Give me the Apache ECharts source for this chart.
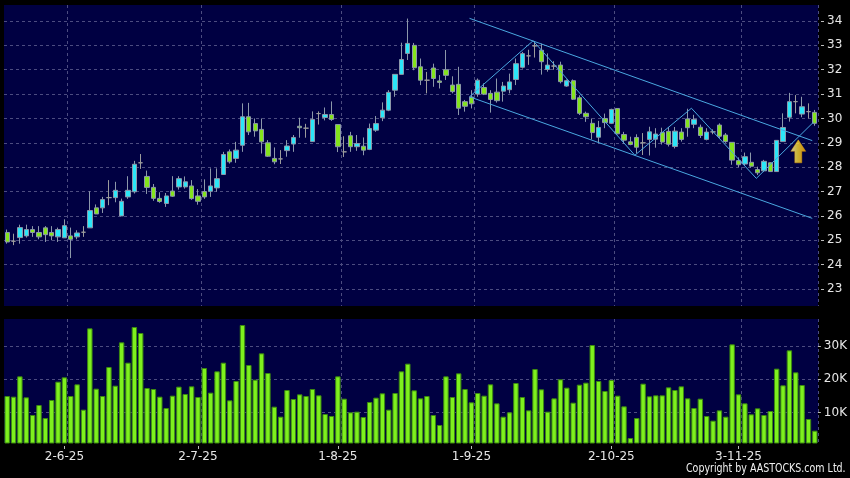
<!DOCTYPE html>
<html><head><meta charset="utf-8">
<script src="https://cdn.jsdelivr.net/npm/echarts@6/dist/echarts.min.js"></script>
<style>html,body{margin:0;padding:0;background:#000;}#c{width:850px;height:478px;}</style>
</head><body><div id="c"></div>
<script>
// ---- data ----
const dates = ('20-5-25 21-5-25 22-5-25 23-5-25 26-5-25 27-5-25 28-5-25 29-5-25 30-5-25 ' +
 '2-6-25 3-6-25 4-6-25 5-6-25 6-6-25 9-6-25 10-6-25 11-6-25 12-6-25 13-6-25 16-6-25 17-6-25 18-6-25 19-6-25 20-6-25 23-6-25 24-6-25 25-6-25 26-6-25 27-6-25 30-6-25 ' +
 '2-7-25 3-7-25 4-7-25 7-7-25 8-7-25 9-7-25 10-7-25 11-7-25 14-7-25 15-7-25 16-7-25 17-7-25 18-7-25 21-7-25 22-7-25 23-7-25 24-7-25 25-7-25 28-7-25 29-7-25 30-7-25 31-7-25 ' +
 '1-8-25 4-8-25 5-8-25 6-8-25 7-8-25 8-8-25 11-8-25 12-8-25 13-8-25 14-8-25 15-8-25 18-8-25 19-8-25 20-8-25 21-8-25 22-8-25 25-8-25 26-8-25 27-8-25 28-8-25 29-8-25 ' +
 '1-9-25 2-9-25 3-9-25 4-9-25 5-9-25 8-9-25 9-9-25 10-9-25 11-9-25 12-9-25 15-9-25 16-9-25 17-9-25 18-9-25 19-9-25 22-9-25 23-9-25 24-9-25 25-9-25 26-9-25 29-9-25 30-9-25 ' +
 '2-10-25 3-10-25 6-10-25 8-10-25 9-10-25 10-10-25 13-10-25 14-10-25 15-10-25 16-10-25 17-10-25 20-10-25 21-10-25 22-10-25 23-10-25 24-10-25 27-10-25 28-10-25 30-10-25 31-10-25 ' +
 '3-11-25 4-11-25 5-11-25 6-11-25 7-11-25 10-11-25 11-11-25 12-11-25 13-11-25 14-11-25 17-11-25 18-11-25 19-11-25').split(' ');

const opens = [25.32,24.96,25.11,25.18,25.44,25.32,25.51,25.32,25.14,25.10,
25.18,25.14,25.33,25.51,26.33,26.33,26.75,26.75,26.00,26.78,
26.99,28.18,27.62,27.17,26.72,26.51,27.02,27.19,27.19,27.23,
26.82,27.00,27.01,27.15,27.70,28.63,28.36,28.90,30.07,29.79,
29.55,29.00,28.36,28.34,28.68,28.95,29.68,29.60,29.05,30.20,
30.04,30.16,29.75,28.63,29.29,28.84,28.86,28.73,29.52,30.03,
30.34,31.16,31.81,32.67,33.00,32.12,31.57,32.07,31.54,32.00,
31.37,31.40,30.69,30.88,31.00,31.27,31.03,31.08,31.12,31.18,
31.60,32.10,32.57,32.98,32.80,32.01,32.15,32.19,31.33,31.55,
30.85,30.21,29.80,29.23,30.00,29.80,30.41,29.34,29.04,29.22,
29.00,29.14,29.15,29.42,29.47,28.85,29.44,29.98,29.76,29.64,
29.14,29.45,29.73,29.32,29.02,28.27,28.13,28.20,27.90,27.85,
28.18,27.82,29.05,30.05,30.69,30.18,30.28,30.25];
const closes = [24.93,24.96,25.52,25.44,25.32,25.14,25.23,25.18,25.44,25.60,
25.04,25.30,25.33,26.22,26.08,26.67,26.75,27.05,26.60,27.05,
28.12,28.18,27.17,26.72,26.59,26.82,26.81,27.53,27.40,26.71,
26.60,26.78,27.23,27.53,28.52,28.22,28.70,30.07,29.45,29.49,
29.04,28.45,28.22,28.34,28.87,29.22,29.62,29.60,29.96,30.20,
30.16,29.96,28.84,28.63,28.84,28.97,28.70,29.59,29.79,30.34,
31.07,31.81,32.42,33.08,32.08,31.57,31.57,31.64,31.48,31.77,
31.10,30.42,30.50,30.60,31.57,31.00,30.78,30.73,31.33,31.50,
32.25,32.66,32.57,32.98,32.33,32.19,32.15,31.51,31.55,30.79,
30.21,30.07,29.42,29.63,29.83,30.37,29.37,29.11,28.93,28.82,
29.00,29.45,29.36,29.03,28.94,29.48,29.14,29.62,29.96,29.30,
29.44,29.45,29.27,29.05,28.29,28.10,28.43,28.04,27.77,28.24,
27.82,29.10,29.63,30.69,30.69,30.48,30.28,29.80];
const lows = [24.86,24.80,24.86,25.11,25.14,25.04,24.93,25.00,24.93,25.10,
24.27,25.04,25.14,25.51,26.08,26.12,26.44,26.56,26.00,26.70,
26.92,27.93,26.90,26.62,26.54,26.37,26.78,27.08,27.12,26.66,
26.46,26.70,26.78,26.99,27.70,28.15,28.18,28.63,29.32,29.25,
28.56,28.42,28.12,28.13,28.43,28.63,29.21,29.21,29.05,29.75,
29.92,29.90,28.62,28.42,28.63,28.67,28.49,28.70,29.45,29.89,
30.30,30.89,31.81,32.40,31.98,31.37,31.03,31.30,31.23,31.58,
31.03,30.14,30.28,30.41,30.89,30.96,30.24,30.65,30.69,31.03,
31.37,32.05,32.20,32.50,31.80,31.92,32.00,31.44,31.30,30.76,
30.14,29.86,29.14,28.98,29.60,29.77,29.35,28.97,28.90,28.57,
28.50,28.48,28.80,28.93,28.85,28.77,29.05,29.25,29.60,29.20,
29.10,29.35,29.20,29.00,28.10,28.00,28.05,27.98,27.68,27.80,
27.80,27.82,29.05,29.87,30.21,30.05,30.00,29.70];
const highs = [25.44,25.27,25.64,25.64,25.58,25.58,25.58,25.58,25.52,25.86,
25.52,25.41,25.58,27.01,26.47,26.78,27.47,27.40,26.71,27.63,
28.26,28.54,27.86,27.31,26.97,26.94,27.63,27.63,27.62,27.47,
27.10,27.50,27.95,27.95,28.63,28.73,29.04,30.62,30.64,30.00,
30.00,29.11,28.81,28.70,29.11,29.32,30.03,29.78,30.29,30.29,
30.45,30.70,29.75,29.27,29.45,29.32,29.22,29.79,30.10,30.66,
31.16,31.81,33.11,34.10,33.10,32.46,31.91,32.25,31.78,32.81,
31.73,32.12,30.76,31.16,31.64,31.44,31.16,31.64,31.50,31.84,
32.46,32.73,32.82,33.18,33.07,32.67,32.35,32.33,31.60,31.60,
30.95,30.28,30.00,29.90,30.20,30.40,30.41,29.45,29.25,29.35,
29.40,29.66,29.60,29.62,29.65,29.65,29.60,30.40,30.15,29.75,
29.60,29.55,29.80,29.40,29.02,28.40,28.60,28.60,28.02,28.30,
28.20,29.10,30.21,31.05,30.96,30.89,30.62,30.35];
// volume in thousands of shares
const volumes = [15.0,14.8,20.9,14.6,9.3,12.3,8.4,13.8,19.3,20.6,
15.0,18.5,10.9,35.3,17.2,15.0,23.7,18.1,31.1,25.0,
35.7,33.9,17.4,17.1,14.8,11.4,15.1,17.8,15.6,17.9,
14.7,23.4,16.0,22.4,25.0,13.7,19.5,36.3,24.3,19.9,
27.8,21.9,11.8,8.8,16.8,14.1,15.5,15.0,17.1,15.2,
9.6,9.0,20.9,14.2,10.1,10.3,8.7,13.2,14.5,15.8,
10.9,15.9,22.4,24.7,16.7,14.3,15.0,9.3,6.3,20.9,
14.7,21.8,17.1,13.1,15.9,15.1,18.5,12.8,8.8,10.1,
18.9,14.7,10.7,23.1,17.0,10.3,14.3,20.0,17.5,13.0,
18.4,19.0,30.3,19.5,16.5,19.8,15.1,11.9,2.4,8.4,
18.7,14.9,15.2,15.2,17.6,16.8,17.9,14.3,11.4,14.2,
9.0,7.6,10.7,8.8,30.5,15.5,12.8,9.5,11.3,9.3,
10.5,23.2,18.2,28.7,22.1,18.3,8.1,4.6];

const tickIndex = [9, 30, 52, 73, 95, 115];
const tickLabels = ['2-6-25', '2-7-25', '1-8-25', '1-9-25', '2-10-25', '3-11-25'];
const priceMin = 23, priceMax = 34, priceStep = 1;
const volTickMin = 10, volTickMax = 30, volStep = 10;

// drawn annotation lines: [candle index, price]
const zigzag = [[72.7, 30.89], [82.7, 33.19], [98.7, 28.49], [107.6, 30.42], [117.8, 27.54], [126.8, 29.85]];
const channelUpper = [[72.7, 34.11], [126.6, 29.09]];
const channelLower = [[72.7, 30.89], [126.6, 25.90]];
const arrowPoint = [[124.4, 28.65]];

// ---- layout / styles ----
const L = 4, W = 814;
const navy = '#000042';
const gridLineColor = '#4c4c80';
const labelColor = '#e6e6e6';
const upColor = '#2be6f8', downColor = '#84e41c', edgeColor = '#8c98aa', dojiColor = '#9c9c9c';
const lineColor = '#4aa8e0';

const splitIdx = tickIndex.map(i => i + 1);
const candleData = dates.map((d, i) => {
  const item = { value: [opens[i], closes[i], lows[i], highs[i]] };
  if (opens[i] === closes[i]) item.itemStyle = { color: dojiColor, borderColor: dojiColor, color0: dojiColor, borderColor0: dojiColor };
  return item;
});
const labelMap = {};
tickIndex.forEach((k, j) => labelMap[k] = tickLabels[j]);

const chart = echarts.init(document.getElementById('c'), null, { renderer: 'canvas' });
const dashed = { show: true, lineStyle: { color: gridLineColor, type: [3, 3], width: 1 } };
chart.setOption({
  backgroundColor: '#000',
  animation: false,
  grid: [
    { left: L, width: W, top: 5, height: 301, show: true, backgroundColor: navy, borderWidth: 0 },
    { left: L, width: W, top: 21, height: 268 },
    { left: L, width: W, top: 319, height: 124, show: true, backgroundColor: navy, borderWidth: 0 },
    { left: L, width: W, top: 346, height: 66.7 }
  ],
  xAxis: [
    { gridIndex: 0, type: 'category', data: dates, boundaryGap: true, axisLine: { show: false }, axisTick: { show: false }, axisLabel: { show: false },
      splitLine: Object.assign({ interval: (i) => splitIdx.includes(i) }, dashed) },
    { gridIndex: 1, type: 'category', data: dates, show: false },
    { gridIndex: 0, type: 'value', min: -0.5, max: dates.length - 0.5, show: false },
    { gridIndex: 2, type: 'category', data: dates, boundaryGap: true, offset: 3, axisLine: { show: false },
      axisTick: { show: true, alignWithLabel: true, length: 3, interval: (i) => tickIndex.includes(i), lineStyle: { color: '#bbbbbb' } },
      axisLabel: { show: true, interval: (i) => tickIndex.includes(i), formatter: (v, i) => labelMap[i] || '', color: labelColor, fontFamily: 'DejaVu Sans', fontSize: 12, margin: 5 },
      splitLine: Object.assign({ interval: (i) => splitIdx.includes(i) }, dashed) },
    { gridIndex: 3, type: 'category', data: dates, show: false }
  ],
  yAxis: [
    { gridIndex: 0, type: 'value', min: 22.302, max: 34.657, show: false, splitLine: { show: false } },
    { gridIndex: 1, type: 'value', min: priceMin, max: priceMax, interval: priceStep, position: 'right', offset: 3,
      axisLine: { show: false }, axisTick: { show: true, length: 3, lineStyle: { color: '#bbbbbb' } },
      axisLabel: { color: labelColor, fontFamily: 'DejaVu Sans', fontSize: 12, margin: 6 },
      splitLine: dashed },
    { gridIndex: 2, type: 'value', min: 0.9, max: 38.1, show: false, splitLine: { show: false } },
    { gridIndex: 3, type: 'value', min: volTickMin, max: volTickMax, interval: volStep, position: 'right', offset: 3,
      axisLine: { show: false }, axisTick: { show: true, length: 3, lineStyle: { color: '#bbbbbb' } },
      axisLabel: { color: labelColor, fontFamily: 'DejaVu Sans', fontSize: 12, margin: 6, formatter: v => v + 'K' },
      splitLine: dashed }
  ],
  series: [
    { type: 'candlestick', xAxisIndex: 0, yAxisIndex: 0, data: candleData, barWidth: 4.8,
      itemStyle: { color: upColor, color0: downColor, borderColor: edgeColor, borderColor0: edgeColor, borderWidth: 1 } },
    { type: 'line', xAxisIndex: 2, yAxisIndex: 0, data: channelUpper, symbol: 'none', lineStyle: { color: lineColor, width: 1 } },
    { type: 'line', xAxisIndex: 2, yAxisIndex: 0, data: channelLower, symbol: 'none', lineStyle: { color: lineColor, width: 1 } },
    { type: 'line', xAxisIndex: 2, yAxisIndex: 0, data: zigzag, symbol: 'none', lineStyle: { color: lineColor, width: 1 } },
    { type: 'scatter', xAxisIndex: 2, yAxisIndex: 0, data: arrowPoint, symbol: 'path://M7.5,0 L15,11.5 L11,11.5 L11,23 L4,23 L4,11.5 L0,11.5 Z',
      symbolSize: [15, 23], symbolKeepAspect: false,
      itemStyle: { color: new echarts.graphic.LinearGradient(0, 0, 1, 0, [{ offset: 0, color: '#fff7b0' }, { offset: 0.45, color: '#ffe030' }, { offset: 1, color: '#ffa800' }]), borderColor: '#f0a000', borderWidth: 0.5 } },
    { type: 'bar', xAxisIndex: 3, yAxisIndex: 2, data: volumes, barWidth: 5.4,
      itemStyle: { color: '#7ef01e', borderColor: '#3c8a10', borderWidth: 1 } }
  ],
  graphic: [
    { type: 'text', x: 686, y: 463, scaleX: 0.79, style: { text: 'Copyright by AASTOCKS.com Ltd.', fill: '#f0f0f0', font: '12px "DejaVu Sans"', textAlign: 'left', textVerticalAlign: 'top' } }
  ]
});
</script></body></html>
